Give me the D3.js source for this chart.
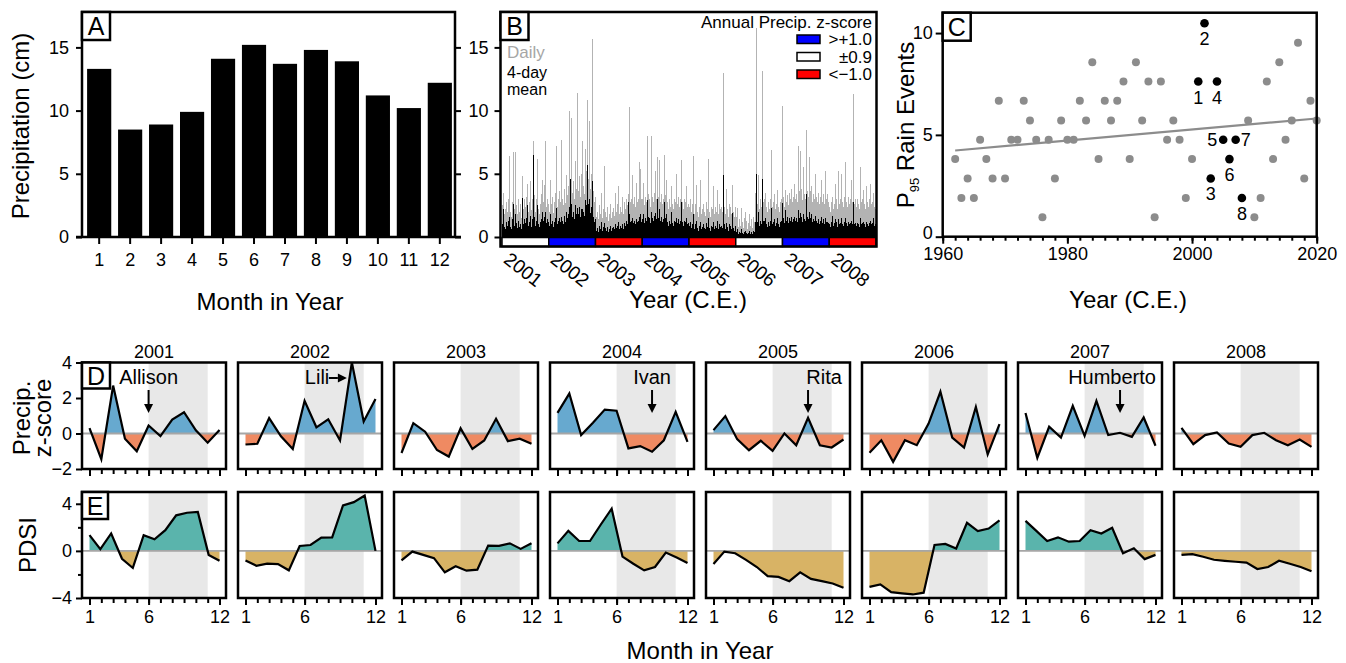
<!DOCTYPE html>
<html>
<head>
<meta charset="utf-8">
<script src="https://cdn.jsdelivr.net/npm/d3@7"></script>
<style>
  body { margin: 0; background: #fff; }
  svg { display: block; }
</style>
</head>
<body>
<script>
// ---- data ----
const months = [1, 2, 3, 4, 5, 6, 7, 8, 9, 10, 11, 12];
const monthlyPrecip = [13.3, 8.5, 8.9, 9.9, 14.1, 15.2, 13.7, 14.8, 13.9, 11.2, 10.2, 12.2];

const yearsB = [2001, 2002, 2003, 2004, 2005, 2006, 2007, 2008];
const annualClass = ['mid', 'wet', 'dry', 'wet', 'dry', 'mid', 'wet', 'dry'];
const classLabels = ['>+1.0', '\u00b10.9', '<\u22121.0'];

// weekly maxima of daily precipitation (cm), 52 per year
const daily2001 = [2.5,3.5,1.8,2.2,2.8,1.5,2.0,3.0,6.4,2.0,1.6,2.8,6.7,2.2,1.4,6.7,2.5,1.8,3.0,2.0,2.6,1.5,4.8,2.2,3.0,1.8,2.4,3.2,4.2,2.0,2.8,4.4,2.1,3.0,7.6,2.5,3.3,2.0,3.0,6.2,2.2,1.8,2.6,3.4,4.5,2.0,2.8,4.1,7.6,2.4,3.0,2.6];
const daily2002 = [2.0,1.8,4.5,2.6,3.2,1.9,2.8,3.5,7.2,2.4,3.0,2.2,3.6,2.8,7.7,3.0,2.5,3.8,2.7,4.9,3.3,2.6,4.0,10.0,4.2,9.4,3.5,4.4,3.0,6.0,3.8,4.6,11.4,3.6,4.8,3.2,5.0,7.6,4.0,3.4,7.0,4.2,5.2,10.8,4.6,9.2,3.8,5.0,15.7,3.6,2.8,3.2];
const daily2003 = [2.2,1.6,2.0,1.4,2.5,1.8,3.5,1.5,2.2,1.9,5.6,2.0,1.6,2.4,1.3,1.8,2.6,1.5,2.0,1.4,2.3,1.7,3.5,2.0,2.6,4.0,1.8,2.4,2.0,3.2,2.2,1.8,2.8,2.2,3.0,2.5,3.4,10.3,2.8,3.0,2.4,4.9,2.6,3.2,2.4,4.3,2.8,3.0,5.9,2.6,5.4,3.0];
const daily2004 = [3.0,4.3,2.5,3.2,2.8,8.0,3.4,2.6,3.0,2.4,8.0,3.2,2.8,3.5,5.2,3.0,3.6,6.3,3.2,6.1,2.8,3.4,2.6,3.0,6.5,3.3,2.5,4.5,2.8,2.2,3.0,2.4,4.0,2.6,2.2,3.0,2.5,2.8,5.0,2.6,3.2,2.4,3.0,6.1,2.8,2.2,3.0,2.5,2.8,4.0,2.4,2.6];
const daily2005 = [2.4,3.0,2.0,2.6,6.4,2.2,1.8,2.6,4.1,2.0,1.6,2.4,4.5,1.8,2.2,1.5,2.6,2.0,1.7,2.8,2.2,6.2,2.0,1.6,2.4,1.8,2.2,4.0,1.8,2.4,2.0,3.7,1.8,2.6,2.2,1.6,2.4,2.0,13.0,2.4,1.8,3.8,2.2,1.6,2.6,2.0,2.4,1.8,4.1,2.0,1.6,2.4];
const daily2006 = [1.6,1.0,2.3,0.8,1.4,0.9,2.3,1.2,0.7,1.5,2.0,0.8,1.3,0.6,1.1,1.8,0.9,1.4,0.7,1.6,1.2,3.5,2.0,16.5,2.6,4.9,2.2,3.0,2.4,13.1,2.8,2.2,3.0,3.5,2.4,2.0,2.8,2.2,3.0,6.9,2.4,2.0,2.8,3.4,2.2,2.6,3.7,2.4,2.0,2.8,3.0,10.4];
const daily2007 = [2.6,3.2,2.4,3.7,2.8,3.3,2.5,3.5,3.0,2.6,3.8,2.8,3.2,4.2,3.0,3.4,2.8,7.2,3.6,6.8,3.0,3.8,2.9,5.5,3.4,3.0,8.5,3.6,3.2,6.3,3.0,3.6,4.0,2.8,3.4,3.0,5.0,3.2,2.8,3.4,3.5,2.6,3.2,4.5,2.8,3.4,2.6,5.2,3.0,2.4,3.4,2.8];
const daily2008 = [2.4,2.0,2.8,3.2,2.2,2.6,4.2,2.4,3.0,2.2,5.2,2.6,3.0,5.0,2.8,2.4,3.2,2.6,5.9,2.8,2.4,3.2,2.6,3.0,4.5,2.8,3.2,11.3,2.6,3.0,2.4,3.0,2.6,2.2,5.5,2.8,2.4,3.0,3.7,2.6,2.2,4.0,2.8,2.4,3.0,4.2,2.6,2.2,2.8,3.5,2.4,2.2];

// weekly maxima of the 4-day running mean (cm)
const mean2001 = [1.0,2.2,0.8,0.6,1.2,0.5,0.9,1.3,1.6,0.8,0.6,1.4,2.6,0.9,0.5,1.8,1.1,0.7,1.3,0.8,1.0,0.6,3.1,1.0,1.4,0.7,1.1,1.5,2.5,0.9,1.2,1.7,0.8,1.4,6.5,1.2,1.6,0.9,1.3,2.5,1.0,0.8,1.2,1.4,2.0,0.9,1.3,1.6,2.0,1.1,1.4,1.2];
const mean2002 = [0.9,0.7,1.8,1.0,1.3,0.8,1.2,1.5,2.3,1.0,1.3,0.9,1.5,1.2,1.6,1.3,1.0,1.7,1.2,2.0,1.5,1.1,1.8,2.4,4.6,2.6,1.6,2.0,1.4,2.5,1.8,2.1,2.3,1.8,2.4,1.6,2.2,2.2,2.0,1.7,2.9,2.0,2.5,5.7,2.6,3.0,1.9,2.4,4.4,1.6,1.2,1.4];
const mean2003 = [0.8,0.5,0.7,0.4,0.9,0.6,1.2,0.5,0.8,0.6,1.1,0.7,0.5,0.8,0.4,0.6,0.9,0.5,0.7,0.4,0.8,0.6,1.0,0.7,0.9,1.2,0.6,0.9,0.7,1.0,0.8,0.6,1.1,0.9,1.3,1.0,2.8,1.8,1.2,1.3,1.0,1.5,1.1,1.3,1.0,1.4,1.2,1.3,1.6,1.1,1.8,1.2];
const mean2004 = [1.4,1.8,1.1,1.5,1.3,2.9,1.6,1.2,1.5,1.1,2.0,1.5,1.3,1.7,1.9,1.4,1.7,3.0,1.5,2.2,1.3,1.6,1.2,1.4,2.8,1.5,1.1,1.8,1.2,0.9,1.3,1.0,2.0,1.1,0.9,1.3,1.0,1.2,1.5,1.1,1.4,1.0,1.3,2.8,1.2,0.9,1.3,1.0,1.2,1.5,1.0,1.1];
const mean2005 = [0.9,1.2,0.7,1.0,1.8,0.8,0.6,1.0,1.3,0.7,0.5,0.9,1.2,0.6,0.8,0.5,1.0,0.7,0.6,1.1,0.8,1.5,0.7,0.5,0.9,0.6,0.8,1.2,0.6,0.9,0.7,1.3,0.6,1.0,0.8,0.5,0.9,0.7,4.9,1.0,0.6,1.1,0.8,0.5,1.0,0.7,0.9,0.6,1.9,0.7,0.5,0.9];
const mean2006 = [0.4,0.3,0.6,0.2,0.4,0.3,0.6,0.3,0.2,0.4,0.5,0.2,0.3,0.2,0.3,0.5,0.2,0.4,0.2,0.5,0.4,1.2,0.8,5.0,1.2,2.0,0.9,1.3,1.0,4.6,1.3,0.9,1.3,1.5,1.0,0.8,1.2,0.9,1.3,2.3,1.0,0.8,1.2,1.4,0.9,1.1,1.5,1.0,0.8,1.2,1.3,2.7];
const mean2007 = [1.2,1.5,1.1,2.1,1.3,1.6,1.1,1.5,1.3,1.2,1.6,1.2,1.4,1.6,1.3,1.5,1.2,2.1,1.5,1.9,1.3,1.6,1.2,1.8,1.4,1.3,3.4,1.6,1.4,2.0,1.3,1.5,1.8,1.2,1.4,1.3,1.7,1.3,1.1,1.4,1.3,1.0,1.3,1.6,1.1,1.4,1.0,1.5,1.2,0.9,1.2,1.1];
const mean2008 = [1.0,0.8,1.2,1.7,0.9,1.1,1.4,0.9,1.2,0.8,1.4,1.0,1.1,1.5,1.0,0.9,1.2,1.0,1.5,1.1,0.9,1.2,1.0,1.1,1.3,1.0,1.2,2.8,1.0,1.1,0.9,1.1,1.0,0.8,1.5,1.0,0.9,1.1,1.2,1.0,0.8,1.2,1.0,0.9,1.1,1.3,1.0,0.8,1.1,1.5,0.9,1.0];

const p95Years = [1962,1963,1964,1965,1966,1967,1968,1969,1970,1971,1972,1973,1974,1975,1976,1977,1978,1979,1980,1981,1982,1983,1984,1985,1986,1987,1988,1989,1990,1991,1992,1993,1994,1995,1996,1997,1998,1999,2000,2001,2002,2003,2004,2005,2006,2007,2008,2009,2010,2011,2012,2013,2014,2015,2016,2017,2018,2019,2020];
const p95Values = [3.81,1.90,2.86,1.90,4.76,3.81,2.86,6.67,2.86,4.76,4.76,6.67,5.71,4.76,0.95,4.76,2.86,5.71,4.76,4.76,6.67,5.71,8.57,3.81,6.67,5.71,6.67,7.62,3.81,8.57,5.71,7.62,0.95,7.62,4.76,5.71,4.76,1.90,3.81,7.62,10.48,2.86,7.62,4.76,3.81,4.76,1.90,5.71,0.95,1.90,7.62,3.81,8.57,4.76,5.71,9.52,2.86,6.67,5.71];

// monthly precipitation z-scores
const zscore2001 = [0.3, -1.45, 2.7, -0.3, -1.0, 0.45, -0.15, 0.78, 1.2, 0.18, -0.52, 0.2];
const zscore2002 = [-0.62, -0.58, 0.87, -0.16, -0.87, 1.84, 0.35, 0.8, -0.39, 4.0, 0.68, 1.95];
const zscore2003 = [-1.1, 0.58, 0.1, -0.93, -1.3, 0.29, -0.87, -0.39, 0.83, -0.43, -0.29, -0.58];
const zscore2004 = [1.16, 2.25, -0.09, 0.6, 1.35, 1.28, -0.84, -0.71, -1.03, -0.38, 1.22, -0.47];
const zscore2005 = [0.19, 0.98, -0.32, -0.94, -0.41, -0.98, 0.0, -0.66, 0.88, -0.66, -0.79, -0.34];
const zscore2006 = [-1.09, -0.38, -1.6, -0.38, -0.66, 0.56, 2.35, -0.23, -0.79, 1.5, -1.18, 0.53];
const zscore2007 = [1.16, -1.37, 0.38, -0.23, 1.56, -0.13, 1.84, -0.09, 0.04, -0.19, 0.9, -0.69];
const zscore2008 = [0.32, -0.6, -0.09, 0.06, -0.56, -0.75, -0.09, 0.04, -0.38, -0.66, -0.34, -0.75];

// PDSI, 13 values spread evenly over months 1-12
const pdsi2001 = [1.34, 0.14, 1.48, -0.67, -1.45, 1.34, 0.98, 1.76, 3.02, 3.24, 3.3, -0.34, -0.84];
const pdsi2002 = [-0.81, -1.26, -1.09, -1.12, -1.65, 0.42, 0.5, 1.12, 1.15, 3.86, 4.14, 4.7, 0.0];
const pdsi2003 = [-0.81, -0.06, -0.34, -0.62, -1.82, -1.31, -1.68, -1.59, 0.45, 0.42, 0.64, 0.17, 0.64];
const pdsi2004 = [0.64, 1.7, 0.84, 0.84, 2.24, 3.58, -0.48, -1.09, -1.65, -1.37, -0.14, -0.56, -1.03];
const pdsi2005 = [-1.12, -0.06, -0.2, -0.76, -1.37, -2.15, -2.21, -2.57, -1.82, -2.38, -2.57, -2.77, -3.13];
const pdsi2006 = [-3.05, -2.85, -3.5, -3.6, -3.7, -3.55, 0.5, 0.59, 0.2, 2.38, 1.68, 1.9, 2.6];
const pdsi2007 = [2.55, 1.7, 0.84, 1.15, 0.78, 0.84, 1.76, 1.48, 1.96, -0.2, 0.22, -0.7, -0.34];
const pdsi2008 = [-0.34, -0.28, -0.5, -0.75, -0.84, -0.92, -1.0, -1.54, -1.37, -0.84, -1.09, -1.37, -1.73];

const storms = ['Allison', 'Lili', 'Ivan', 'Rita', 'Humberto'];
const stormYears = [2001, 2002, 2004, 2005, 2007];
const stormMonths = [6, 10, 9, 9, 9];

const dailyByYear = [daily2001, daily2002, daily2003, daily2004, daily2005, daily2006, daily2007, daily2008];
const meanByYear = [mean2001, mean2002, mean2003, mean2004, mean2005, mean2006, mean2007, mean2008];
const zscores = [zscore2001, zscore2002, zscore2003, zscore2004, zscore2005, zscore2006, zscore2007, zscore2008];
const pdsis = [pdsi2001, pdsi2002, pdsi2003, pdsi2004, pdsi2005, pdsi2006, pdsi2007, pdsi2008];

// ---- drawing ----
const FONT = '"Liberation Sans", Arial, Helvetica, sans-serif';
const classFill = { wet: '#0000ff', mid: '#ffffff', dry: '#ff0000' };

const svg = d3.select('body').append('svg')
  .attr('width', 1346).attr('height', 663)
  .style('font-family', FONT);
svg.append('rect').attr('width', 1346).attr('height', 663).attr('fill', '#fff');

function styleAxis(g, size = 18) {
  g.attr('font-family', null).attr('font-size', null);
  g.select('.domain').remove();
  g.selectAll('.tick line').attr('stroke', '#000').attr('stroke-width', 2);
  g.selectAll('.tick text').attr('font-size', size).attr('fill', '#000').attr('font-family', FONT);
}

function box(g, x0, y0, x1, y1, w = 2.5) {
  g.append('rect').attr('x', x0).attr('y', y0).attr('width', x1 - x0).attr('height', y1 - y0)
    .attr('fill', 'none').attr('stroke', '#000').attr('stroke-width', w);
}

function letter(g, x, y, txt, w = 28, h = 28) {
  g.append('rect').attr('x', x).attr('y', y).attr('width', w).attr('height', h)
    .attr('fill', '#fff').attr('stroke', '#000').attr('stroke-width', 2.5);
  g.append('text').attr('x', x + w / 2).attr('y', y + h / 2 + 9).attr('text-anchor', 'middle')
    .attr('font-size', 25).text(txt);
}

function arrow(g, x1, y1, x2, y2) {
  const a = Math.atan2(y2 - y1, x2 - x1), L = 9, W = 4.5;
  const bx = x2 - L * Math.cos(a), by = y2 - L * Math.sin(a);
  g.append('line').attr('x1', x1).attr('y1', y1).attr('x2', bx).attr('y2', by)
    .attr('stroke', '#000').attr('stroke-width', 2);
  g.append('path').attr('fill', '#000').attr('d',
    `M${x2},${y2}L${bx + W * Math.sin(a)},${by - W * Math.cos(a)}L${bx - W * Math.sin(a)},${by + W * Math.cos(a)}Z`);
}

// ---- Panel A ----
const gA = svg.append('g');
const yPrecip = d3.scaleLinear().domain([0, 17.8]).range([237, 12]);
const xMonthA = d3.scaleBand().domain(months).range([84, 455]).paddingInner(0.22).paddingOuter(0.1);

gA.selectAll('rect.bar').data(monthlyPrecip).join('rect').attr('class', 'bar')
  .attr('x', (d, i) => xMonthA(months[i])).attr('width', xMonthA.bandwidth())
  .attr('y', d => yPrecip(d)).attr('height', d => yPrecip(0) - yPrecip(d)).attr('fill', '#000');

gA.append('g').attr('transform', 'translate(82,0)')
  .call(d3.axisLeft(yPrecip).tickValues([0, 5, 10, 15]).tickSize(6).tickPadding(7)).call(styleAxis);
gA.append('g').attr('transform', 'translate(455,0)')
  .call(d3.axisRight(yPrecip).tickValues([0, 5, 10, 15]).tickSize(6).tickFormat('')).call(styleAxis);
gA.append('g').attr('transform', `translate(0,${yPrecip(0)})`)
  .call(d3.axisBottom(xMonthA).tickSize(7).tickPadding(9)).call(styleAxis);
gA.append('path').attr('d', `M82,${yPrecip(0)}V${yPrecip.range()[1]}H455V${yPrecip(0)}`)
  .attr('fill', 'none').attr('stroke', '#000').attr('stroke-width', 2.5);
gA.append('line').attr('x1', 76).attr('x2', 461).attr('y1', yPrecip(0)).attr('y2', yPrecip(0))
  .attr('stroke', '#000').attr('stroke-width', 2.5);
letter(gA, 82, 12, 'A');
gA.append('text').attr('transform', 'translate(29,126) rotate(-90)').attr('text-anchor', 'middle')
  .attr('font-size', 24).text('Precipitation (cm)');
gA.append('text').attr('x', 270).attr('y', 310).attr('text-anchor', 'middle')
  .attr('font-size', 24).text('Month in Year');

// ---- Panel B ----
const gB = svg.append('g');
const yB = yPrecip.copy();
const xWeek = d3.scaleLinear().domain([0, yearsB.length * 52]).range([502, 876]);
const xYearB = d3.scaleLinear().domain([yearsB[0], yearsB[yearsB.length - 1] + 1]).range([502, 876]);

const dailyFlat = dailyByYear.flatMap((arr, yi) => arr.map((v, w) => ({ i: yi * 52 + w, v })));
const meanFlat = meanByYear.flatMap((arr, yi) => arr.map((v, w) => ({ i: yi * 52 + w, v })));

gB.selectAll('line.daily').data(dailyFlat).join('line').attr('class', 'daily')
  .attr('x1', d => xWeek(d.i + 0.5)).attr('x2', d => xWeek(d.i + 0.5))
  .attr('y1', yB(0)).attr('y2', d => yB(d.v))
  .attr('stroke', '#b3b3b3').attr('stroke-width', 1).attr('shape-rendering', 'crispEdges');
gB.selectAll('line.mean').data(meanFlat).join('line').attr('class', 'mean')
  .attr('x1', d => xWeek(d.i + 0.5)).attr('x2', d => xWeek(d.i + 0.5))
  .attr('y1', yB(0)).attr('y2', d => yB(d.v))
  .attr('stroke', '#000').attr('stroke-width', 1).attr('shape-rendering', 'crispEdges');

gB.selectAll('rect.strip').data(yearsB).join('rect').attr('class', 'strip')
  .attr('x', d => xYearB(d)).attr('width', d => xYearB(d + 1) - xYearB(d))
  .attr('y', yB(0) + 0.5).attr('height', 9)
  .attr('fill', (d, i) => classFill[annualClass[i]]).attr('stroke', '#000').attr('stroke-width', 1.5);

gB.append('g').attr('transform', 'translate(500.5,0)')
  .call(d3.axisLeft(yB).tickValues([0, 5, 10, 15]).tickSize(6).tickPadding(6)).call(styleAxis);
box(gB, 500.5, 12, 876.5, 246.5);
letter(gB, 500.5, 12, 'B');

gB.selectAll('text.yr').data(yearsB).join('text').attr('class', 'yr')
  .attr('transform', d => `translate(${xYearB(d) + 9},${251}) rotate(38)`)
  .attr('dy', '0.72em').attr('font-size', 19).text(d => d);
gB.append('text').attr('x', 688).attr('y', 308).attr('text-anchor', 'middle')
  .attr('font-size', 24).text('Year (C.E.)');

gB.append('text').attr('x', 507).attr('y', 58).attr('font-size', 17).attr('fill', '#a6a6a6').text('Daily');
gB.append('text').attr('x', 507).attr('y', 78).attr('font-size', 16).text('4-day');
gB.append('text').attr('x', 507).attr('y', 95).attr('font-size', 16).text('mean');

gB.append('text').attr('x', 872).attr('y', 28).attr('text-anchor', 'end').attr('font-size', 17)
  .text('Annual Precip. z-score');
const legendKeys = ['wet', 'mid', 'dry'];
legendKeys.forEach((k, i) => {
  const yy = 35 + i * 17.5;
  gB.append('rect').attr('x', 797).attr('y', yy).attr('width', 23).attr('height', 8.5)
    .attr('fill', classFill[k]).attr('stroke', '#000').attr('stroke-width', 1.5);
  gB.append('text').attr('x', 872).attr('y', yy + 10).attr('text-anchor', 'end')
    .attr('font-size', 17).text(classLabels[i]);
});

// ---- Panel C ----
const gC = svg.append('g');
const xC = d3.scaleLinear().domain([1960, 2020]).range([942.7, 1316.7]);
const yC = d3.scaleLinear().domain([0, 11]).range([236.7, 12.7]);

const reg = (() => {
  const mx = d3.mean(p95Years), my = d3.mean(p95Values);
  let sxy = 0, sxx = 0;
  p95Years.forEach((x, i) => { sxy += (x - mx) * (p95Values[i] - my); sxx += (x - mx) ** 2; });
  const b = sxy / sxx;
  return x => my + b * (x - mx);
})();
const x0r = p95Years[0], x1r = p95Years[p95Years.length - 1];
gC.append('line').attr('x1', xC(x0r)).attr('x2', xC(x1r)).attr('y1', yC(reg(x0r))).attr('y2', yC(reg(x1r)))
  .attr('stroke', '#8c8c8c').attr('stroke-width', 2.2);

const cPts = p95Years.map((yr, i) => ({ yr, v: p95Values[i], hl: yr >= 2001 && yr <= 2008 }));
gC.selectAll('circle').data(cPts).join('circle')
  .attr('cx', d => xC(d.yr)).attr('cy', d => yC(d.v)).attr('r', d => d.hl ? 4.3 : 4)
  .attr('fill', d => d.hl ? '#000' : '#8c8c8c');

const hlOffsets = { 1: [0, 22], 2: [0, 22], 3: [0, 22], 4: [0, 22], 5: [-11, 6], 6: [0, 22], 7: [10, 6], 8: [0, 22] };
cPts.filter(d => d.hl).forEach(d => {
  const n = d.yr - 2000;
  const [dx, dy] = hlOffsets[n];
  gC.append('text').attr('x', xC(d.yr) + dx).attr('y', yC(d.v) + dy).attr('text-anchor', 'middle')
    .attr('font-size', 18).text(n);
});

gC.append('g').attr('transform', `translate(0,${yC(0)})`)
  .call(d3.axisBottom(xC).tickValues(d3.range(1960, 2021, 2)).tickSize(4).tickFormat('')).call(styleAxis);
gC.append('g').attr('transform', `translate(0,${yC(0)})`)
  .call(d3.axisBottom(xC).tickValues([1960, 1980, 2000, 2020]).tickSize(7).tickPadding(4).tickFormat(d3.format('d'))).call(styleAxis);
gC.append('g').attr('transform', `translate(${xC(1960)},0)`)
  .call(d3.axisLeft(yC).tickValues([0, 5, 10]).tickSize(7).tickPadding(3)).call(styleAxis);
gC.selectAll('.tick text').filter(d => d === 0).attr('dy', '0.1em');
box(gC, xC(1960), yC(11), xC(2020), yC(0));
letter(gC, xC(1960), yC(11), 'C');

const tC = gC.append('text').attr('transform', 'translate(914,125) rotate(-90)').attr('text-anchor', 'middle')
  .attr('font-size', 24);
tC.append('tspan').text('P');
tC.append('tspan').attr('font-size', 13).attr('dy', 5).text('95');
tC.append('tspan').attr('dy', -5).text(' Rain Events');
gC.append('text').attr('x', 1128).attr('y', 308).attr('text-anchor', 'middle')
  .attr('font-size', 24).text('Year (C.E.)');

// ---- Panels D and E ----
const yD = d3.scaleLinear().domain([-2, 4]).range([469, 362.5]);
const yE = d3.scaleLinear().domain([-4, 5]).range([598, 492]);
const panelLeft = i => 82 + 156 * i;
const PW = 144;

function smallPanel(g, id, L, y, values, xPos, posCol, negCol, withLabels) {
  const R = L + PW, top = y.range()[1], bot = y.range()[0];
  const xm = d3.scaleLinear().domain([1, 12]).range([L + 7.5, R - 6.5]);
  g.append('rect').attr('x', xm(6)).attr('width', xm(11) - xm(6)).attr('y', top).attr('height', bot - top)
    .attr('fill', '#e8e8e8');
  const defs = g.append('defs');
  defs.append('clipPath').attr('id', `pos-${id}`).append('rect')
    .attr('x', L).attr('width', PW).attr('y', top).attr('height', y(0) - top);
  defs.append('clipPath').attr('id', `neg-${id}`).append('rect')
    .attr('x', L).attr('width', PW).attr('y', y(0)).attr('height', bot - y(0));
  const area = d3.area().x((d, i) => xm(xPos(i))).y0(y(0)).y1(d => y(d));
  g.append('path').datum(values).attr('d', area).attr('fill', posCol).attr('clip-path', `url(#pos-${id})`);
  g.append('path').datum(values).attr('d', area).attr('fill', negCol).attr('clip-path', `url(#neg-${id})`);
  g.append('line').attr('x1', L).attr('x2', R).attr('y1', y(0)).attr('y2', y(0))
    .attr('stroke', '#a6a6a6').attr('stroke-width', 1.8);
  g.append('path').datum(values).attr('d', d3.line().x((d, i) => xm(xPos(i))).y(d => y(d)))
    .attr('fill', 'none').attr('stroke', '#000').attr('stroke-width', 2.2).attr('stroke-linejoin', 'miter');
  g.append('g').attr('transform', `translate(0,${bot})`)
    .call(d3.axisBottom(xm).tickValues(months).tickSize(5).tickFormat('')).call(styleAxis);
  g.append('g').attr('transform', `translate(0,${bot})`)
    .call(d3.axisBottom(xm).tickValues([1, 6, 12]).tickSize(7).tickPadding(5)
      .tickFormat(withLabels ? d3.format('d') : '')).call(styleAxis);
  box(g, L, top, R, bot);
  return xm;
}

const gD = svg.append('g');
const gE = svg.append('g');
yearsB.forEach((yr, i) => {
  const L = panelLeft(i);
  const xm = smallPanel(gD.append('g'), `d${i}`, L, yD, zscores[i], k => k + 1, '#67a9cf', '#ef8a62', false);
  smallPanel(gE.append('g'), `e${i}`, L, yE, pdsis[i], k => 1 + k * 11 / 12, '#5ab4ac', '#d8b365', true);
  gD.append('text').attr('x', L + PW / 2).attr('y', 358).attr('text-anchor', 'middle')
    .attr('font-size', 18).text(yr);
  const s = stormYears.indexOf(yr);
  if (s >= 0) {
    const m = stormMonths[s];
    const xs = xm(m);
    if (storms[s] === 'Lili') {
      gD.append('text').attr('x', xs - 47).attr('y', 384).attr('font-size', 20).text(storms[s]);
      arrow(gD, xs - 23, 378, xs - 5, 378);
    } else {
      const shift = storms[s] === 'Rita' ? 16 : storms[s] === 'Humberto' ? -8 : 0;
      gD.append('text').attr('x', xs + shift).attr('y', 384).attr('text-anchor', 'middle')
        .attr('font-size', 20).text(storms[s]);
      arrow(gD, xs, 390, xs, 413);
    }
  }
});

gD.append('g').attr('transform', `translate(${panelLeft(0)},0)`)
  .call(d3.axisLeft(yD).tickValues([-2, 0, 2, 4]).tickSize(6).tickPadding(4).tickFormat(d3.format('d'))).call(styleAxis);
gE.append('g').attr('transform', `translate(${panelLeft(0)},0)`)
  .call(d3.axisLeft(yE).tickValues([-2, 2]).tickSize(4).tickFormat('')).call(styleAxis);
gE.append('g').attr('transform', `translate(${panelLeft(0)},0)`)
  .call(d3.axisLeft(yE).tickValues([-4, 0, 4]).tickSize(6).tickPadding(4).tickFormat(d3.format('d'))).call(styleAxis);
letter(gD, panelLeft(0), 362.5, 'D', 28, 26);
letter(gE, panelLeft(0), 492, 'E', 26, 27);

gD.append('text').attr('transform', 'translate(30,418) rotate(-90)').attr('text-anchor', 'middle')
  .attr('font-size', 24).text('Precip.');
gD.append('text').attr('transform', 'translate(51,418) rotate(-90)').attr('text-anchor', 'middle')
  .attr('font-size', 24).text('z-score');
gE.append('text').attr('transform', 'translate(36,545) rotate(-90)').attr('text-anchor', 'middle')
  .attr('font-size', 24).text('PDSI');
gE.append('text').attr('x', 700).attr('y', 659).attr('text-anchor', 'middle')
  .attr('font-size', 24).text('Month in Year');
</script>
</body>
</html>
